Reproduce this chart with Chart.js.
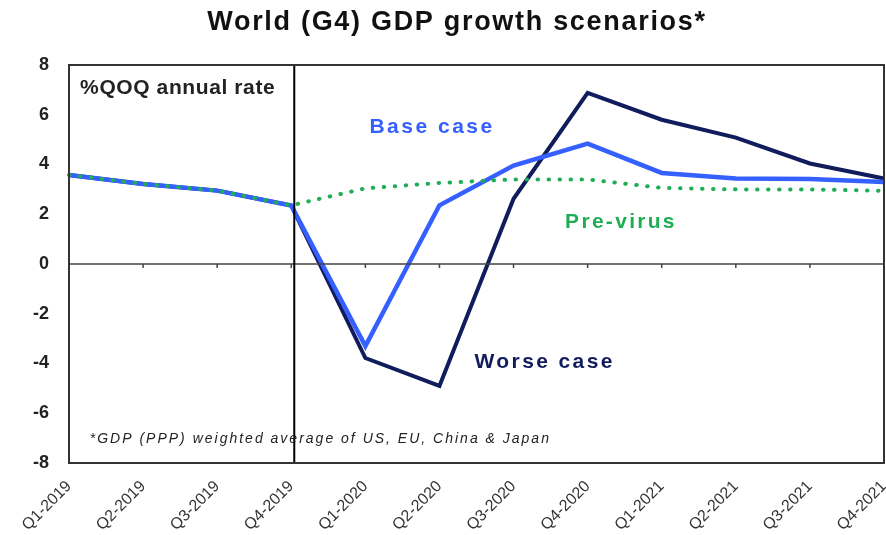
<!DOCTYPE html>
<html>
<head>
  <title>World (G4) GDP growth scenarios</title>
  <script src="https://cdn.jsdelivr.net/npm/chart.js"></script>
  <style>
    body {
      margin: 0;
      background: #fff;
    }
    .wrap {
      width: 886px;
      height: 535px;
    }
  </style>
</head>
<body>
  <div class="wrap"><canvas id="gdpChart" width="886" height="535"></canvas></div>

  <script>
    // data
    const quarters = ['Q1-2019', 'Q2-2019', 'Q3-2019', 'Q4-2019', 'Q1-2020', 'Q2-2020',
                      'Q3-2020', 'Q4-2020', 'Q1-2021', 'Q2-2021', 'Q3-2021', 'Q4-2021'];
    const worseCase = [3.58, 3.22, 2.95, 2.35, -3.78, -4.9, 2.62, 6.88, 5.8, 5.08, 4.04, 3.44];
    const baseCase  = [3.58, 3.22, 2.95, 2.35, -3.3, 2.36, 3.96, 4.84, 3.66, 3.44, 3.42, 3.3];
    const preVirus  = [3.58, 3.22, 2.95, 2.36, 3.04, 3.26, 3.4, 3.4, 3.06, 3.0, 3.0, 2.94];
    const yTicks = [-8, -6, -4, -2, 0, 2, 4, 6, 8];

    const navy = '#111c5c';
    const blue = '#3560ff';
    const green = '#1fae55';
    const font = '"Liberation Sans", Arial, sans-serif';

    // frame, zero line, forecast divider and the text notes
    const decorPlugin = {
      id: 'decor',
      afterDatasetsDraw: (chart) => {
        const ctx = chart.ctx;
        const area = chart.chartArea;
        const x = chart.scales.x;
        const y = chart.scales.y;
        ctx.save();

        // zero line + small ticks
        const y0 = y.getPixelForValue(0);
        ctx.strokeStyle = '#444';
        ctx.lineWidth = 1.5;
        ctx.beginPath();
        ctx.moveTo(area.left, y0);
        ctx.lineTo(area.right, y0);
        for (let i = 1; i < quarters.length - 1; i++) {
          const px = x.getPixelForValue(i);
          ctx.moveTo(px, y0);
          ctx.lineTo(px, y0 + 4);
        }
        ctx.stroke();

        // divider at Q4-2019
        const xd = x.getPixelForValue(3) + 3;
        ctx.strokeStyle = '#000';
        ctx.lineWidth = 2;
        ctx.beginPath();
        ctx.moveTo(xd, area.top);
        ctx.lineTo(xd, area.bottom);
        ctx.stroke();

        // frame
        ctx.strokeStyle = '#333';
        ctx.lineWidth = 2;
        ctx.strokeRect(area.left, area.top, area.right - area.left, area.bottom - area.top);

        // notes
        const note = (text, xi, yv, f, color, align, spacing) => {
          ctx.font = f;
          ctx.fillStyle = color;
          ctx.textAlign = align;
          ctx.textBaseline = 'middle';
          ctx.letterSpacing = spacing || '0px';
          ctx.fillText(text, x.getPixelForValue(xi), y.getPixelForValue(yv));
        };
        note('%QOQ annual rate', 0.15, 7.05, 'bold 21px ' + font, '#222', 'left', '0.6px');
        note('Base case', 4.9, 5.5, 'bold 21px ' + font, blue, 'center', '2.5px');
        note('Pre-virus', 7.45, 1.7, 'bold 21px ' + font, green, 'center', '2.3px');
        note('Worse case', 6.42, -3.95, 'bold 21px ' + font, navy, 'center', '2.4px');
        note('*GDP (PPP) weighted average of US, EU, China & Japan', 0.28, -7.05,
             'italic 14px ' + font, '#222', 'left', '2px');

        // title
        ctx.font = 'bold 27px ' + font;
        ctx.fillStyle = '#111';
        ctx.textAlign = 'center';
        ctx.textBaseline = 'middle';
        ctx.letterSpacing = '1.7px';
        ctx.fillText('World (G4) GDP growth scenarios*', 457, 23);

        ctx.restore();
      }
    };

    const chart = new Chart(document.getElementById('gdpChart'), {
      type: 'line',
      data: {
        labels: quarters,
        datasets: [
          {
            label: 'Worse case',
            data: worseCase,
            borderColor: navy,
            borderWidth: 4,
            pointRadius: 0,
            tension: 0,
            order: 3
          },
          {
            label: 'Base case',
            data: baseCase,
            borderColor: blue,
            borderWidth: 4.5,
            pointRadius: 0,
            tension: 0,
            order: 2
          },
          {
            label: 'Pre-virus',
            data: preVirus,
            borderColor: green,
            borderWidth: 4,
            borderDash: [0.5, 10.5],
            borderCapStyle: 'round',
            pointRadius: 0,
            tension: 0,
            order: 1
          }
        ]
      },
      options: {
        responsive: false,
        animation: false,
        layout: {
          padding: { top: 65, right: 2, left: 0, bottom: 0 }
        },
        plugins: {
          legend: { display: false },
          title: { display: false },
          tooltip: { enabled: false }
        },
        scales: {
          x: {
            offset: false,
            grid: { display: false },
            border: { display: false },
            ticks: {
              color: '#333',
              font: { family: font, size: 16 },
              maxRotation: 45,
              minRotation: 45,
              padding: 6,
              autoSkip: false
            },
            afterFit: (scale) => {
              scale.height = 72;
              scale.paddingLeft = 0;
              scale.paddingRight = 0;
            }
          },
          y: {
            min: -8,
            max: 8,
            grid: { display: false },
            border: { display: false },
            afterBuildTicks: (scale) => {
              scale.ticks = yTicks.map(v => ({ value: v }));
            },
            ticks: {
              color: '#222',
              font: { family: font, size: 18, weight: 'bold' },
              padding: 12
            },
            afterFit: (scale) => { scale.width = 69; }
          }
        }
      },
      plugins: [decorPlugin]
    });
  </script>
</body>
</html>
